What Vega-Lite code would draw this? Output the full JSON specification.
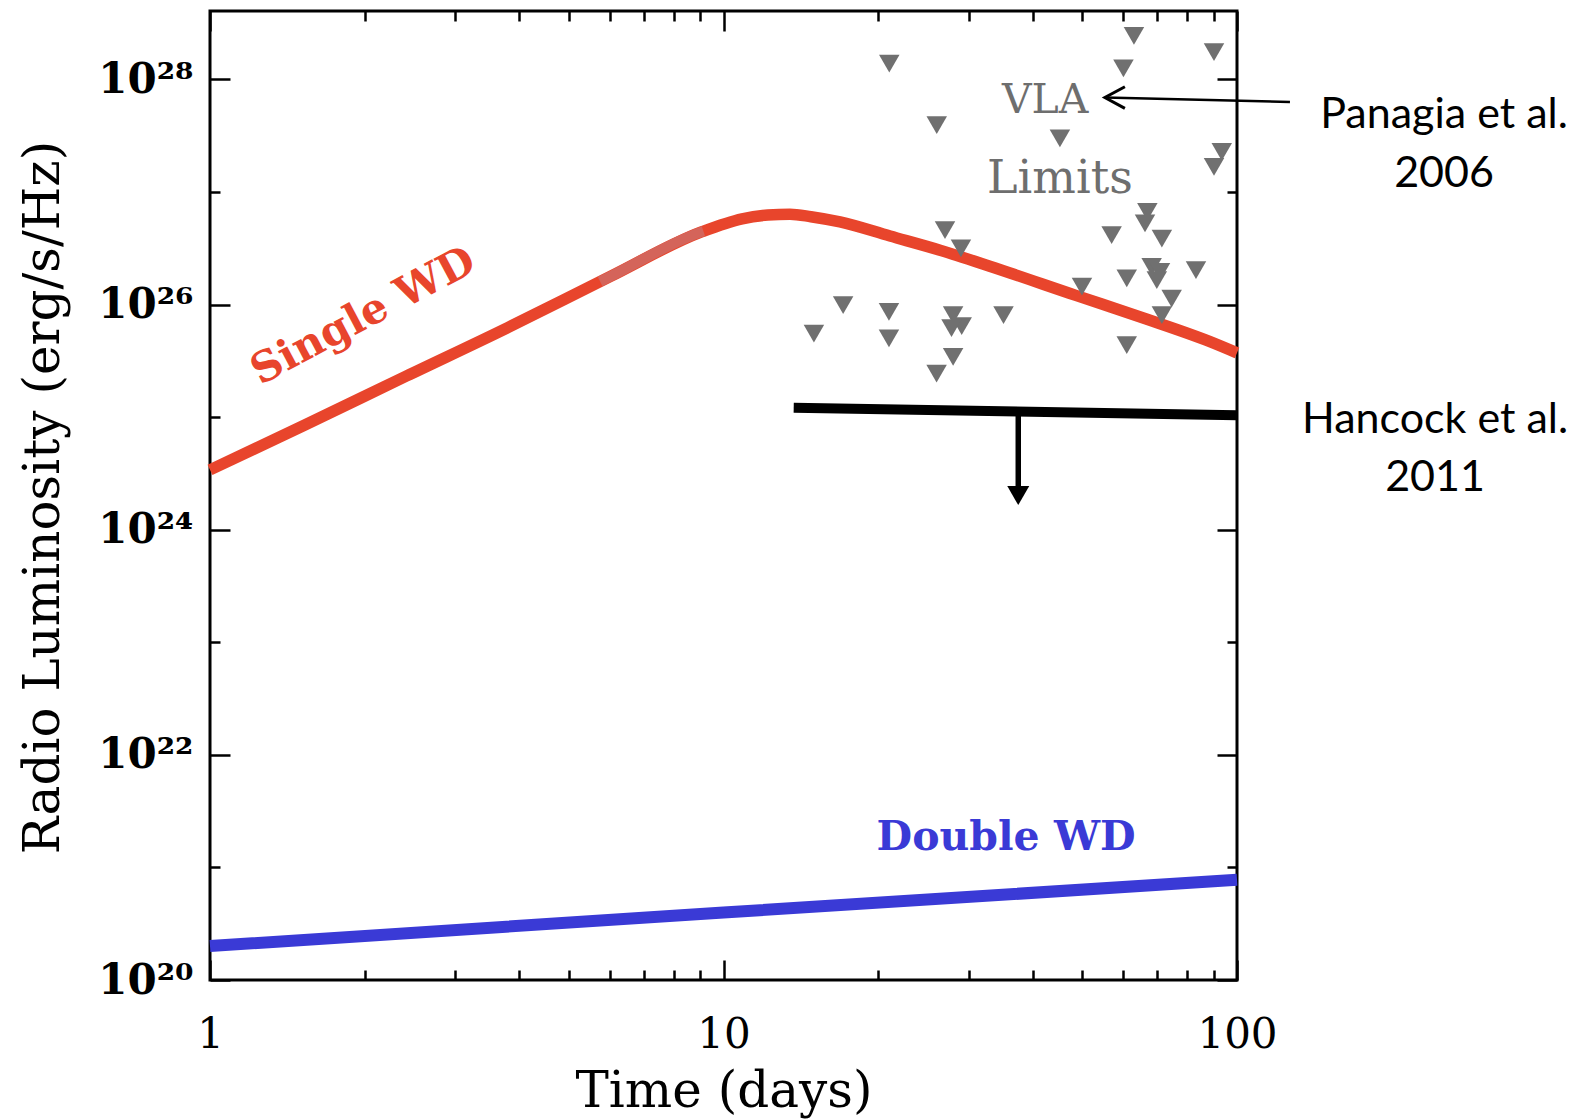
{
  "$schema": "https://vega.github.io/schema/vega-lite/v6.json",
  "width": 1027,
  "height": 969,
  "autosize": "none",
  "padding": {"left": 210, "top": 11, "right": 357, "bottom": 139},
  "background": "white",
  "config": {
    "view": {"stroke": "black", "strokeWidth": 3},
    "axis": {"domain": false, "grid": false}
  },
  "datasets": {
    "single": [
      {"t": 1, "L": 3.40e24}, {"t": 1.53, "L": 8.51e24}, {"t": 2.41, "L": 2.31e25},
      {"t": 3.81, "L": 6.27e25}, {"t": 6.01, "L": 1.77e26}, {"t": 9.06, "L": 4.42e26},
      {"t": 10.87, "L": 5.78e26}, {"t": 12.2, "L": 6.24e26}, {"t": 13.47, "L": 6.35e26},
      {"t": 14.8, "L": 6.03e26}, {"t": 16.86, "L": 5.42e26}, {"t": 21.1, "L": 4.06e26},
      {"t": 26.4, "L": 3.04e26}, {"t": 33.0, "L": 2.19e26},
      {"t": 48.7, "L": 1.20e26}, {"t": 65.7, "L": 7.59e25}, {"t": 88.6, "L": 4.68e25},
      {"t": 100, "L": 3.72e25}
    ],
    "pale": [
      {"t": 5.75, "L": 1.60e26}, {"t": 6.01, "L": 1.77e26}, {"t": 9.06, "L": 4.42e26}, {"t": 9.14, "L": 4.48e26}
    ],
    "double": [
      {"t": 1, "L": 2.0e20}, {"t": 10, "L": 3.98e20}, {"t": 100, "L": 7.76e20}
    ],
    "hancock": [
      {"t": 13.7, "L": 1.21e25}, {"t": 100, "L": 1.04e25}
    ],
    "shaft": [
      {"t": 37.5, "L": 1.12e25, "L2": 2.39e24}
    ],
    "head": [
      {"t": 37.5, "L": 2.01e24}
    ],
    "vla": [
      {"t": 21.03, "L": 1.38e28}, {"t": 26.02, "L": 3.92e27}, {"t": 63.0, "L": 2.43e28},
      {"t": 90.2, "L": 1.75e28}, {"t": 60.1, "L": 1.25e28}, {"t": 45.2, "L": 2.99e27},
      {"t": 93.4, "L": 2.27e27}, {"t": 90.2, "L": 1.67e27}, {"t": 27.0, "L": 4.58e26},
      {"t": 29.0, "L": 3.15e26}, {"t": 17.1, "L": 9.89e25}, {"t": 21.0, "L": 8.61e25},
      {"t": 28.0, "L": 8.05e25}, {"t": 29.1, "L": 6.43e25}, {"t": 27.8, "L": 6.17e25},
      {"t": 35.1, "L": 8.05e25}, {"t": 15.0, "L": 5.53e25}, {"t": 21.0, "L": 5.0e25},
      {"t": 28.0, "L": 3.43e25}, {"t": 26.0, "L": 2.44e25}, {"t": 66.9, "L": 6.65e26},
      {"t": 66.2, "L": 5.25e26}, {"t": 57.0, "L": 4.13e26}, {"t": 71.4, "L": 3.86e26},
      {"t": 68.2, "L": 2.16e26}, {"t": 70.8, "L": 1.95e26}, {"t": 69.8, "L": 1.65e26},
      {"t": 83.2, "L": 2.02e26}, {"t": 61.0, "L": 1.71e26}, {"t": 49.9, "L": 1.44e26},
      {"t": 74.6, "L": 1.13e26}, {"t": 71.4, "L": 8.05e25}, {"t": 61.0, "L": 4.36e25}
    ],
    "pointer": [
      {"t": 55.3, "L": 6.9e27}, {"t": 126.8, "L": 6.31e27}
    ],
    "tip": [
      {"t": 55.3, "L": 6.9e27}
    ],
    "vlaText": [
      {"t": 42.3, "L": 4.98e27, "label": "VLA"}
    ],
    "limitsText": [
      {"t": 45.2, "L": 9.75e26, "label": "Limits"}
    ],
    "singleText": [
      {"t": 1.987, "L": 7.89e25, "label": "Single WD"}
    ],
    "doubleText": [
      {"t": 35.5, "L": 1.43e21, "label": "Double WD"}
    ],
    "refs": [
      {"t": 253, "L": 3.69e27, "label": "Panagia et al."},
      {"t": 253, "L": 1.10e27, "label": "2006"},
      {"t": 243, "L": 7.21e24, "label": "Hancock et al."},
      {"t": 243, "L": 2.20e24, "label": "2011"}
    ]
  },
  "layer": [
    {
      "data": {"name": "single"},
      "mark": {"type": "line", "color": "#e8452c", "strokeWidth": 11.5, "interpolate": "monotone"},
      "encoding": {
        "x": {"field": "t", "type": "quantitative",
          "scale": {"type": "log", "domain": [1, 100], "nice": false},
          "axis": {"orient": "bottom", "values": [1, 10, 100], "ticks": false, "domain": false,
            "labelPadding": 34, "labelFont": "DejaVu Serif", "labelFontSize": 42, "labelColor": "black",
            "labelFlush": false, "labelOverlap": false, "labelBound": false, "format": "d",
            "title": "Time (days)", "titleFont": "DejaVu Serif", "titleFontSize": 50, "titleFontWeight": "normal",
            "titleColor": "black", "titleY": 126, "titleBaseline": "alphabetic"}},
        "y": {"field": "L", "type": "quantitative",
          "scale": {"type": "log", "domain": [1e20, 4.05e28], "nice": false},
          "axis": {"orient": "left", "values": [1e20, 1e22, 1e24, 1e26, 1e28], "ticks": false, "domain": false,
            "labelPadding": 17, "labelFont": "DejaVu Serif", "labelFontSize": 42, "labelFontWeight": "bold",
            "labelColor": "black", "labelFlush": false, "labelOverlap": false, "labelBound": false,
            "labelExpr": "datum.value == 1e20 ? '10²⁰' : datum.value == 1e22 ? '10²²' : datum.value == 1e24 ? '10²⁴' : datum.value == 1e26 ? '10²⁶' : '10²⁸'",
            "title": "Radio Luminosity (erg/s/Hz)", "titleFont": "DejaVu Serif", "titleFontSize": 50,
            "titleFontWeight": "normal", "titleColor": "black", "titleX": -152, "titleY": 486,
            "titleAngle": -90, "titleBaseline": "alphabetic", "titleAlign": "center"}}
      }
    },
    {
      "data": {"name": "pale"},
      "mark": {"type": "line", "color": "#d4645a", "strokeWidth": 10.5, "interpolate": "monotone"},
      "encoding": {
        "x": {"field": "t", "type": "quantitative",
          "axis": {"orient": "bottom", "values": [1, 10, 100], "labels": false, "domain": false,
            "tickSize": -20, "tickWidth": 2.5, "tickColor": "black", "title": null}},
        "y": {"field": "L", "type": "quantitative",
          "axis": {"orient": "left", "values": [1e20, 1e22, 1e24, 1e26, 1e28], "labels": false, "domain": false,
            "tickSize": -20, "tickWidth": 2.5, "tickColor": "black", "title": null}}
      }
    },
    {
      "data": {"name": "double"},
      "mark": {"type": "line", "color": "#3a3ad6", "strokeWidth": 12},
      "encoding": {
        "x": {"field": "t", "type": "quantitative",
          "axis": {"orient": "bottom", "values": [2, 3, 4, 5, 6, 7, 8, 9, 20, 30, 40, 50, 60, 70, 80, 90],
            "labels": false, "domain": false, "tickSize": -10, "tickWidth": 2.5, "tickColor": "black", "title": null}},
        "y": {"field": "L", "type": "quantitative",
          "axis": {"orient": "left", "values": [1e21, 1e23, 1e25, 1e27], "labels": false, "domain": false,
            "tickSize": -10, "tickWidth": 2.5, "tickColor": "black", "title": null}}
      }
    },
    {
      "data": {"name": "hancock"},
      "mark": {"type": "line", "color": "black", "strokeWidth": 10},
      "encoding": {
        "x": {"field": "t", "type": "quantitative",
          "axis": {"orient": "top", "values": [1, 10, 100], "labels": false, "domain": false,
            "tickSize": -20, "tickWidth": 2.5, "tickColor": "black", "title": null}},
        "y": {"field": "L", "type": "quantitative",
          "axis": {"orient": "right", "values": [1e20, 1e22, 1e24, 1e26, 1e28], "labels": false, "domain": false,
            "tickSize": -20, "tickWidth": 2.5, "tickColor": "black", "title": null}}
      }
    },
    {
      "data": {"name": "shaft"},
      "mark": {"type": "rule", "color": "black", "strokeWidth": 5.5},
      "encoding": {
        "x": {"field": "t", "type": "quantitative",
          "axis": {"orient": "top", "values": [2, 3, 4, 5, 6, 7, 8, 9, 20, 30, 40, 50, 60, 70, 80, 90],
            "labels": false, "domain": false, "tickSize": -10, "tickWidth": 2.5, "tickColor": "black", "title": null}},
        "y": {"field": "L", "type": "quantitative",
          "axis": {"orient": "right", "values": [1e21, 1e23, 1e25, 1e27], "labels": false, "domain": false,
            "tickSize": -10, "tickWidth": 2.5, "tickColor": "black", "title": null}},
        "y2": {"field": "L2"}
      }
    },
    {
      "data": {"name": "head"},
      "mark": {"type": "point", "shape": "triangle-down", "filled": true, "color": "black", "size": 484, "opacity": 1},
      "encoding": {
        "x": {"field": "t", "type": "quantitative", "axis": null},
        "y": {"field": "L", "type": "quantitative", "axis": null}
      }
    },
    {
      "data": {"name": "vla"},
      "mark": {"type": "point", "shape": "triangle-down", "filled": true, "color": "#707070", "size": 420, "opacity": 1},
      "encoding": {
        "x": {"field": "t", "type": "quantitative", "axis": null},
        "y": {"field": "L", "type": "quantitative", "axis": null}
      }
    },
    {
      "data": {"name": "pointer"},
      "mark": {"type": "line", "color": "black", "strokeWidth": 2.5},
      "encoding": {
        "x": {"field": "t", "type": "quantitative", "axis": null},
        "y": {"field": "L", "type": "quantitative", "axis": null}
      }
    },
    {
      "data": {"name": "tip"},
      "mark": {"type": "point", "shape": "M1,-0.54L0,0L1,0.54", "filled": false, "stroke": "black", "strokeWidth": 3, "size": 1600, "opacity": 1},
      "encoding": {
        "x": {"field": "t", "type": "quantitative", "axis": null},
        "y": {"field": "L", "type": "quantitative", "axis": null}
      }
    },
    {
      "data": {"name": "vlaText"},
      "mark": {"type": "text", "font": "DejaVu Serif", "fontSize": 41, "color": "#6e6e6e", "align": "center", "baseline": "alphabetic"},
      "encoding": {
        "x": {"field": "t", "type": "quantitative", "axis": null},
        "y": {"field": "L", "type": "quantitative", "axis": null},
        "text": {"field": "label"}
      }
    },
    {
      "data": {"name": "limitsText"},
      "mark": {"type": "text", "font": "DejaVu Serif", "fontSize": 46, "color": "#6e6e6e", "align": "center", "baseline": "alphabetic"},
      "encoding": {
        "x": {"field": "t", "type": "quantitative", "axis": null},
        "y": {"field": "L", "type": "quantitative", "axis": null},
        "text": {"field": "label"}
      }
    },
    {
      "data": {"name": "singleText"},
      "mark": {"type": "text", "font": "DejaVu Serif", "fontSize": 42, "fontWeight": "bold", "color": "#e8452c", "align": "center", "baseline": "middle", "angle": -28},
      "encoding": {
        "x": {"field": "t", "type": "quantitative", "axis": null},
        "y": {"field": "L", "type": "quantitative", "axis": null},
        "text": {"field": "label"}
      }
    },
    {
      "data": {"name": "doubleText"},
      "mark": {"type": "text", "font": "DejaVu Serif", "fontSize": 41, "fontWeight": "bold", "color": "#3a3ad6", "align": "center", "baseline": "alphabetic"},
      "encoding": {
        "x": {"field": "t", "type": "quantitative", "axis": null},
        "y": {"field": "L", "type": "quantitative", "axis": null},
        "text": {"field": "label"}
      }
    },
    {
      "data": {"name": "refs"},
      "mark": {"type": "text", "font": "Lato", "fontSize": 43, "color": "black", "align": "center", "baseline": "alphabetic"},
      "encoding": {
        "x": {"field": "t", "type": "quantitative", "axis": null},
        "y": {"field": "L", "type": "quantitative", "axis": null},
        "text": {"field": "label"}
      }
    }
  ],
  "resolve": {"axis": {"x": "independent", "y": "independent"}}
}
